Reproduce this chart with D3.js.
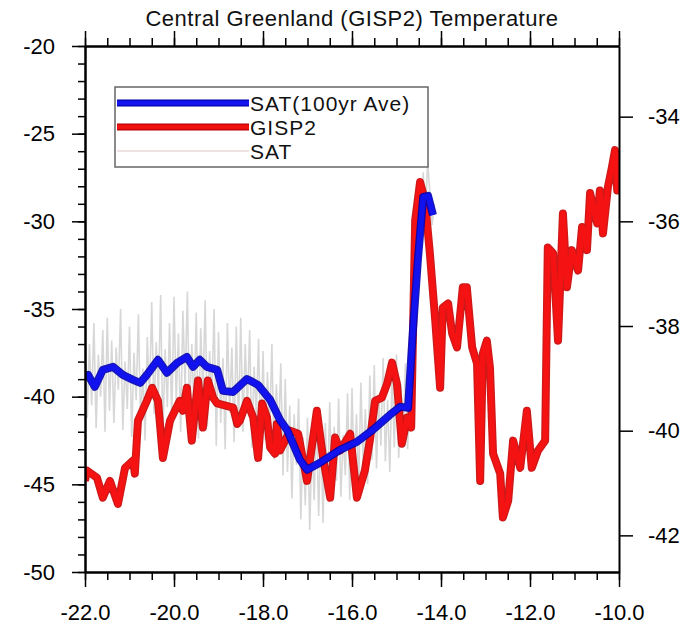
<!DOCTYPE html>
<html>
<head>
<meta charset="utf-8">
<script src="https://cdn.jsdelivr.net/npm/d3@7"></script>
<style>
  body { margin: 0; background: #fff; }
  text { font-family: "Liberation Sans", Arial, sans-serif; }
</style>
</head>
<body>
<svg id="chart" width="700" height="636"></svg>
<script>
// ---- data ----
const xMajor = [-22, -20, -18, -16, -14, -12, -10];
const leftMajor = [-20, -25, -30, -35, -40, -45, -50];
const rightMajor = [-34, -36, -38, -40, -42];

// SAT 100yr average, left axis  [ka, degC]
const satAve = [
  [-22.00, -38.87], [-21.93, -38.76], [-21.78, -39.44], [-21.60, -38.47], [-21.37, -38.30],
  [-21.15, -38.76], [-20.92, -39.04], [-20.76, -39.21], [-20.61, -38.76], [-20.36, -37.90],
  [-20.16, -38.64], [-19.93, -38.07], [-19.71, -37.73], [-19.57, -38.30], [-19.42, -37.90],
  [-19.26, -38.30], [-19.03, -38.47], [-18.90, -39.67], [-18.67, -39.73], [-18.36, -38.99],
  [-18.11, -39.33], [-17.84, -40.18], [-17.62, -41.32], [-17.46, -41.89], [-17.17, -43.60],
  [-17.01, -44.17], [-16.72, -43.77], [-16.27, -43.03], [-15.89, -42.58], [-15.53, -41.89],
  [-15.15, -41.04], [-14.92, -40.58], [-14.74, -40.64], [-14.70, -39.04], [-14.63, -36.19],
  [-14.52, -32.20], [-14.40, -28.61], [-14.29, -28.55], [-14.18, -29.64]
];

// GISP2, right axis  [ka, degC]
const gisp2 = [
  [-22.00, -40.96], [-21.96, -40.76], [-21.73, -40.90], [-21.60, -41.28], [-21.44, -40.96],
  [-21.26, -41.40], [-21.10, -40.71], [-20.92, -40.57], [-20.88, -40.82], [-20.81, -39.81],
  [-20.61, -39.43], [-20.49, -39.18], [-20.36, -39.43], [-20.25, -40.52], [-20.09, -39.81],
  [-19.87, -39.43], [-19.80, -39.62], [-19.71, -39.18], [-19.60, -40.19], [-19.46, -39.04],
  [-19.35, -39.94], [-19.24, -39.04], [-19.12, -39.37], [-19.03, -39.48], [-18.67, -39.56],
  [-18.58, -39.87], [-18.52, -39.81], [-18.36, -39.43], [-18.22, -39.75], [-18.11, -40.52],
  [-18.02, -39.48], [-17.91, -39.75], [-17.84, -40.32], [-17.73, -40.44], [-17.69, -39.87],
  [-17.62, -40.38], [-17.39, -40.00], [-17.21, -40.06], [-17.01, -40.96], [-16.79, -39.62],
  [-16.65, -40.52], [-16.49, -41.28], [-16.38, -40.13], [-16.27, -40.38], [-16.04, -40.06],
  [-15.89, -41.28], [-15.71, -40.76], [-15.60, -40.19], [-15.48, -39.43], [-15.33, -39.37],
  [-15.21, -39.10], [-15.10, -38.70], [-14.99, -39.10], [-14.88, -40.25], [-14.76, -39.75],
  [-14.67, -39.94], [-14.58, -35.98], [-14.47, -35.25], [-14.36, -35.60], [-14.25, -36.61],
  [-14.13, -37.89], [-14.02, -39.18], [-13.96, -37.65], [-13.84, -37.57], [-13.75, -38.14],
  [-13.64, -38.41], [-13.51, -37.26], [-13.42, -37.26], [-13.30, -38.41], [-13.19, -38.72],
  [-13.12, -40.96], [-13.06, -38.53], [-12.97, -38.28], [-12.90, -38.79], [-12.83, -40.44],
  [-12.67, -40.82], [-12.61, -41.66], [-12.49, -41.34], [-12.38, -40.19], [-12.22, -40.71],
  [-12.07, -39.62], [-11.96, -40.71], [-11.82, -40.38], [-11.66, -40.19], [-11.60, -36.50],
  [-11.48, -36.61], [-11.37, -38.28], [-11.26, -35.85], [-11.17, -37.26], [-11.06, -36.55],
  [-10.92, -36.94], [-10.83, -36.11], [-10.72, -36.55], [-10.65, -35.46], [-10.49, -36.04],
  [-10.43, -35.41], [-10.36, -36.23], [-10.25, -35.35], [-10.16, -34.97], [-10.09, -34.64],
  [-10.04, -35.41], [-10.00, -34.70]
];

// SAT annual-ish, left axis, every 0.05 ka from -22.0
const satStart = -22.0;
const satStep = 0.05;
const satValues = [
  -36.5, -41.2, -37.0, -40.5, -35.8, -41.8, -37.6, -40.0, -36.2, -42.0,
  -35.5, -40.8, -36.8, -41.5, -37.2, -39.6, -35.0, -41.9, -38.0, -40.7,
  -36.0, -42.3, -37.5, -40.2, -35.3, -41.6, -38.4, -42.5, -36.6, -40.1,
  -34.6, -41.0, -36.9, -39.8, -34.2, -42.2, -37.3, -40.6, -35.8, -41.4,
  -34.3, -40.3, -36.4, -42.0, -35.1, -39.5, -34.0, -41.2, -37.0, -40.8,
  -35.2, -42.4, -36.1, -39.9, -34.5, -41.7, -37.4, -40.2, -35.0, -42.8,
  -36.3, -41.5, -37.8, -43.0, -35.8, -40.9, -37.2, -42.6, -36.0, -41.8,
  -35.5, -42.0, -37.0, -40.6, -36.2, -42.9, -38.3, -41.1, -36.7, -43.2,
  -37.4, -42.5, -38.6, -41.9, -37.0, -43.6, -39.3, -42.2, -38.1, -44.5,
  -39.0, -44.3, -40.5, -45.8, -41.0, -43.9, -40.1, -47.0, -42.3, -46.2,
  -41.2, -47.6, -42.5, -45.9, -40.6, -46.8, -42.0, -47.2, -41.5, -45.4,
  -40.3, -46.0, -41.7, -44.8, -40.1, -45.7, -42.2, -44.5, -39.8, -45.9,
  -39.5, -44.8, -41.0, -45.2, -39.2, -43.9, -40.7, -45.0, -38.8, -43.6,
  -38.2, -44.1, -39.9, -42.8, -37.8, -43.7, -40.2, -44.3, -38.6, -42.9,
  -37.6, -43.5, -39.3, -42.6, -38.1, -43.0, -39.0, -40.5, -36.0, -33.5,
  -31.0, -29.5, -27.2, -29.8, -26.6, -28.4, -30.2, -29.0
];

const legendItems = [
  { label: "SAT(100yr Ave)", edge: "#0000a8", color: "#1414f0", width: 7 },
  { label: "GISP2", edge: "#b80000", color: "#f01010", width: 7 },
  { label: "SAT", edge: null, color: "#ead8d8", width: 1.5 }
];

// ---- layout ----
const svg = d3.select("#chart");
const mLeft = 85, mRight = 619, mTop = 46, mBottom = 572;

const x = d3.scaleLinear().domain([-22, -10]).range([mLeft, mRight]);
const yL = d3.scaleLinear().domain([-50, -20]).range([mBottom, mTop]);
const yR = d3.scaleLinear().domain([-42.7, -32.65]).range([mBottom, mTop]);

svg.append("rect").attr("width", 700).attr("height", 636).attr("fill", "#fff");

svg.append("defs").append("clipPath").attr("id", "plotClip")
  .append("rect").attr("x", mLeft).attr("y", mTop)
  .attr("width", mRight - mLeft).attr("height", mBottom - mTop);

const plot = svg.append("g").attr("clip-path", "url(#plotClip)");

const satData = satValues.map((v, i) => [satStart + i * satStep, v]);

const lineL = d3.line().x(d => x(d[0])).y(d => yL(d[1]));
const lineR = d3.line().x(d => x(d[0])).y(d => yR(d[1]));

plot.append("path").datum(satData).attr("d", lineL)
  .attr("fill", "none").attr("stroke", "#cdcdcd").attr("stroke-width", 1.6)
  .attr("stroke-opacity", 0.8);

// thick series: dark edge underneath, bright core on top
function thickLine(data, gen, edge, core) {
  plot.append("path").datum(data).attr("d", gen)
    .attr("fill", "none").attr("stroke", edge).attr("stroke-width", 8)
    .attr("stroke-linejoin", "round").attr("stroke-opacity", 0.9);
  plot.append("path").datum(data).attr("d", gen)
    .attr("fill", "none").attr("stroke", core).attr("stroke-width", 5.5)
    .attr("stroke-linejoin", "round");
}
thickLine(gisp2, lineR, "#c80000", "#f41212");
thickLine(satAve, lineL, "#0000b0", "#1212ee");

// ---- axes ----
const fmt1 = d => d.toFixed(1);
const fmt0 = d => String(d);

function styleAxis(g) {
  g.select(".domain").attr("stroke", "#000").attr("stroke-width", 2);
  g.selectAll(".tick line").attr("stroke", "#000").attr("stroke-width", 1.5);
  g.selectAll(".tick text").attr("fill", "#000").attr("font-size", 22)
    .style("font-family", "'Liberation Sans', Arial, sans-serif");
}

const xMinor = d3.range(-22, -9.99, 0.5);
const yMinor = d3.range(-50, -19.99, 1);

svg.append("g").attr("transform", `translate(0,${mBottom})`)
  .call(d3.axisBottom(x).tickValues(xMinor).tickSize(8).tickSizeOuter(0).tickFormat(""))
  .call(styleAxis);
svg.append("g").attr("transform", `translate(0,${mBottom})`)
  .call(d3.axisBottom(x).tickValues(xMajor).tickSize(15).tickSizeOuter(0)
    .tickPadding(17).tickFormat(fmt1))
  .call(styleAxis);

svg.append("g").attr("transform", `translate(0,${mTop})`)
  .call(d3.axisTop(x).tickValues(xMinor).tickSize(8).tickSizeOuter(0).tickFormat(""))
  .call(styleAxis);
svg.append("g").attr("transform", `translate(0,${mTop})`)
  .call(d3.axisTop(x).tickValues(xMajor).tickSize(15).tickSizeOuter(0).tickFormat(""))
  .call(styleAxis);

svg.append("g").attr("transform", `translate(${mLeft},0)`)
  .call(d3.axisLeft(yL).tickValues(yMinor).tickSize(7).tickSizeOuter(0).tickFormat(""))
  .call(styleAxis);
svg.append("g").attr("transform", `translate(${mLeft},0)`)
  .call(d3.axisLeft(yL).tickValues(leftMajor).tickSize(13).tickSizeOuter(0)
    .tickPadding(17).tickFormat(fmt0))
  .call(styleAxis);

svg.append("g").attr("transform", `translate(${mRight},0)`)
  .call(d3.axisRight(yR).tickValues(rightMajor).tickSize(14).tickSizeOuter(0)
    .tickPadding(15).tickFormat(fmt0))
  .call(styleAxis);

// ---- title ----
svg.append("text")
  .attr("x", (mLeft + mRight) / 2).attr("y", 26)
  .attr("text-anchor", "middle").attr("font-size", 22).attr("fill", "#111")
  .attr("letter-spacing", 0.5)
  .text("Central Greenland (GISP2) Temperature");

// ---- legend ----
const lg = svg.append("g");
lg.append("rect").attr("x", 115).attr("y", 87).attr("width", 313).attr("height", 80)
  .attr("fill", "#fff").attr("stroke", "#666").attr("stroke-width", 1.5);

const rowY = [103, 127, 151];
legendItems.forEach((d, i) => {
  if (d.edge) {
    lg.append("line").attr("x1", 117).attr("x2", 249)
      .attr("y1", rowY[i]).attr("y2", rowY[i])
      .attr("stroke", d.edge).attr("stroke-width", d.width);
  }
  lg.append("line").attr("x1", 117).attr("x2", 249)
    .attr("y1", rowY[i]).attr("y2", rowY[i])
    .attr("stroke", d.color).attr("stroke-width", d.edge ? d.width - 2.5 : d.width);
  lg.append("text").attr("x", 250).attr("y", rowY[i]).attr("dy", "0.36em")
    .attr("font-size", 21).attr("letter-spacing", 1).attr("fill", "#111").text(d.label);
});
</script>
</body>
</html>
